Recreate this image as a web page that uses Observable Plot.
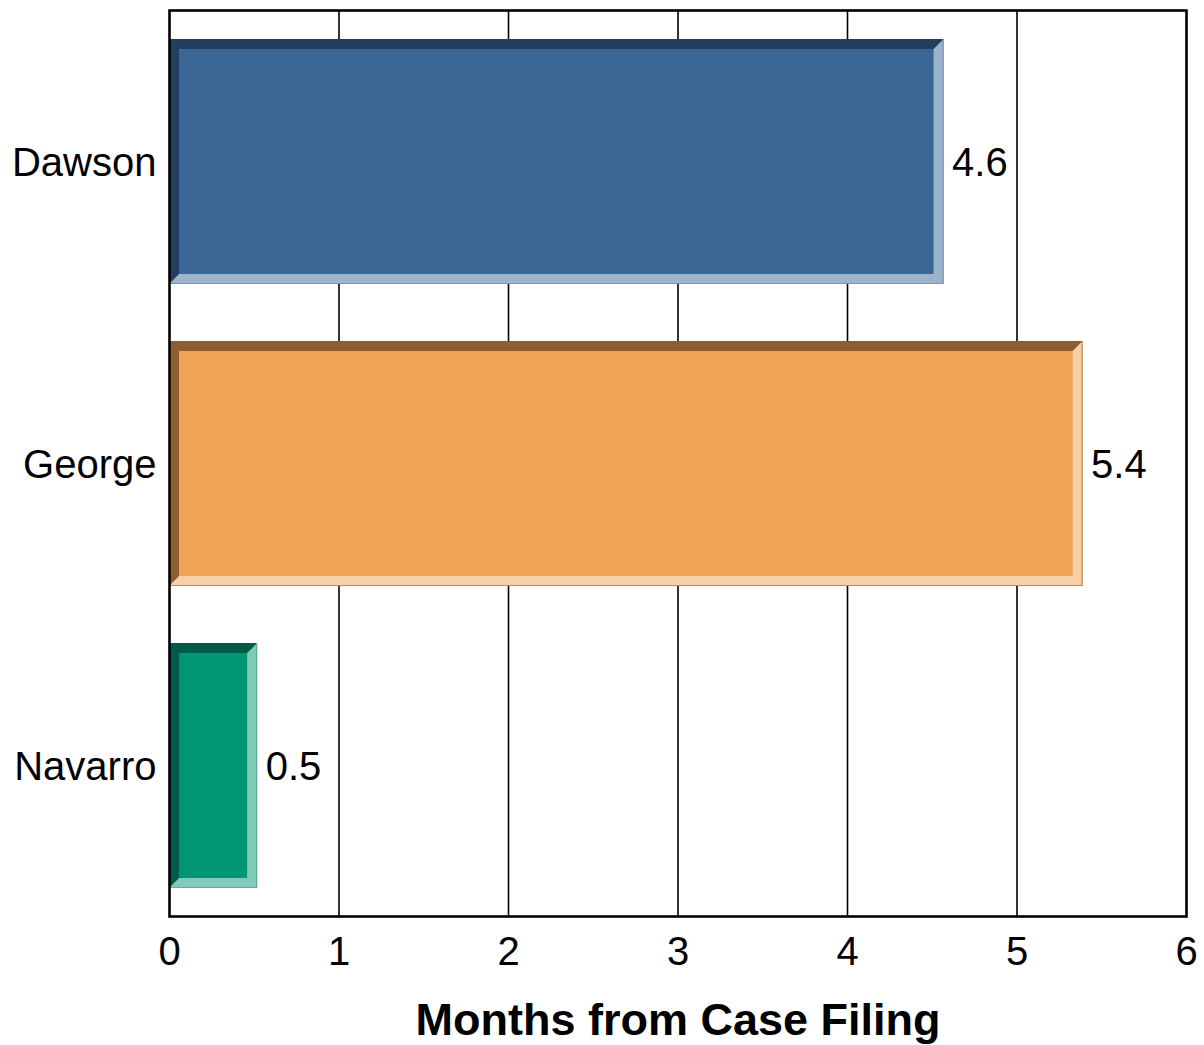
<!DOCTYPE html>
<html>
<head>
<meta charset="utf-8">
<script src="https://cdn.jsdelivr.net/npm/d3@7"></script>
<script src="https://cdn.jsdelivr.net/npm/@observablehq/plot@0.6"></script>
<style>
  html, body { margin: 0; padding: 0; background: #ffffff; }
  #chart svg { display: block; }
</style>
</head>
<body>
<div id="chart"></div>
<script>
const names = ["Dawson", "George", "Navarro"];
const values = [4.57, 5.39, 0.52];
const valueLabels = ["4.6", "5.4", "0.5"];
const xTicks = [0, 1, 2, 3, 4, 5, 6];
const gridValues = [1, 2, 3, 4, 5];
const faceColors = ["#3b6796", "#efa354", "#009673"];
const darkColors = ["#233e5e", "#8b5d2f", "#005c46"];
const lightColors = ["#9db4cd", "#f8d0a6", "#80cbb7"];
const edgeColors = ["#7f93a8", "#b88a5c", "#5fae98"];
const axisTitle = "Months from Case Filing";

const data = names.map((name, i) => ({
  name, value: values[i], label: valueLabels[i],
  face: faceColors[i], dark: darkColors[i], light: lightColors[i], edge: edgeColors[i]
}));

const B = 10;
function bevelRender(index, scales, vals, dimensions, context, next) {
  const g = next(index, scales, vals, dimensions, context);
  const rects = Array.from(g.querySelectorAll("rect"));
  const ns = "http://www.w3.org/2000/svg";
  rects.forEach((r, k) => {
    const d = data[index[k]];
    const x = +r.getAttribute("x"), y = +r.getAttribute("y");
    const w = +r.getAttribute("width"), h = +r.getAttribute("height");
    const parent = r.parentNode;
    const grp = document.createElementNS(ns, "g");
    const light = document.createElementNS(ns, "rect");
    light.setAttribute("x", x); light.setAttribute("y", y);
    light.setAttribute("width", w); light.setAttribute("height", h);
    light.setAttribute("fill", d.light);
    grp.appendChild(light);
    const dark = document.createElementNS(ns, "polygon");
    dark.setAttribute("points", [
      [x, y], [x + w, y], [x + w - B, y + B], [x + B, y + B], [x + B, y + h - B], [x, y + h]
    ].map(p => p.join(",")).join(" "));
    dark.setAttribute("fill", d.dark);
    grp.appendChild(dark);
    const face = document.createElementNS(ns, "rect");
    face.setAttribute("x", x + B); face.setAttribute("y", y + B);
    face.setAttribute("width", Math.max(0, w - 2 * B)); face.setAttribute("height", Math.max(0, h - 2 * B));
    face.setAttribute("fill", d.face);
    grp.appendChild(face);
    const edge = document.createElementNS(ns, "polyline");
    edge.setAttribute("points", [[x + w - 0.5, y], [x + w - 0.5, y + h - 0.5], [x, y + h - 0.5]].map(p => p.join(",")).join(" "));
    edge.setAttribute("fill", "none");
    edge.setAttribute("stroke", d.edge);
    edge.setAttribute("stroke-width", 1.2);
    grp.appendChild(edge);
    parent.replaceChild(grp, r);
  });
  return g;
}

const chart = Plot.plot({
  width: 1204,
  height: 1045,
  marginLeft: 169,
  marginRight: 18,
  marginTop: 10,
  marginBottom: 129,
  style: { fontFamily: "'Liberation Sans', Arial, sans-serif", background: "#ffffff", color: "#000000" },
  x: { domain: [0, 6] },
  y: { domain: names, paddingInner: 0.19, paddingOuter: 0.095 },
  marks: [
    Plot.ruleX(gridValues, { stroke: "#000000", strokeWidth: 1.6 }),
    Plot.barX(data, { x: "value", y: "name", fill: "face", render: bevelRender }),
    Plot.text(data, { x: "value", y: "name", text: "label", dx: 8, dy: 1, textAnchor: "start", fontSize: 40, fill: "#000000" }),
    Plot.axisX({ ticks: xTicks, tickSize: 0, tickPadding: 20, fontSize: 40, label: null, tickFormat: d => String(d) }),
    Plot.axisY({ tickSize: 0, tickPadding: 13, fontSize: 40, label: null, dy: 1 }),
    Plot.text([axisTitle], { frameAnchor: "bottom", dy: 104, lineAnchor: "middle", fontSize: 45, fontWeight: "bold", fill: "#000000" }),
    Plot.frame({ stroke: "#000000", strokeWidth: 2.6 })
  ]
});
document.getElementById("chart").appendChild(chart);
</script>
</body>
</html>
